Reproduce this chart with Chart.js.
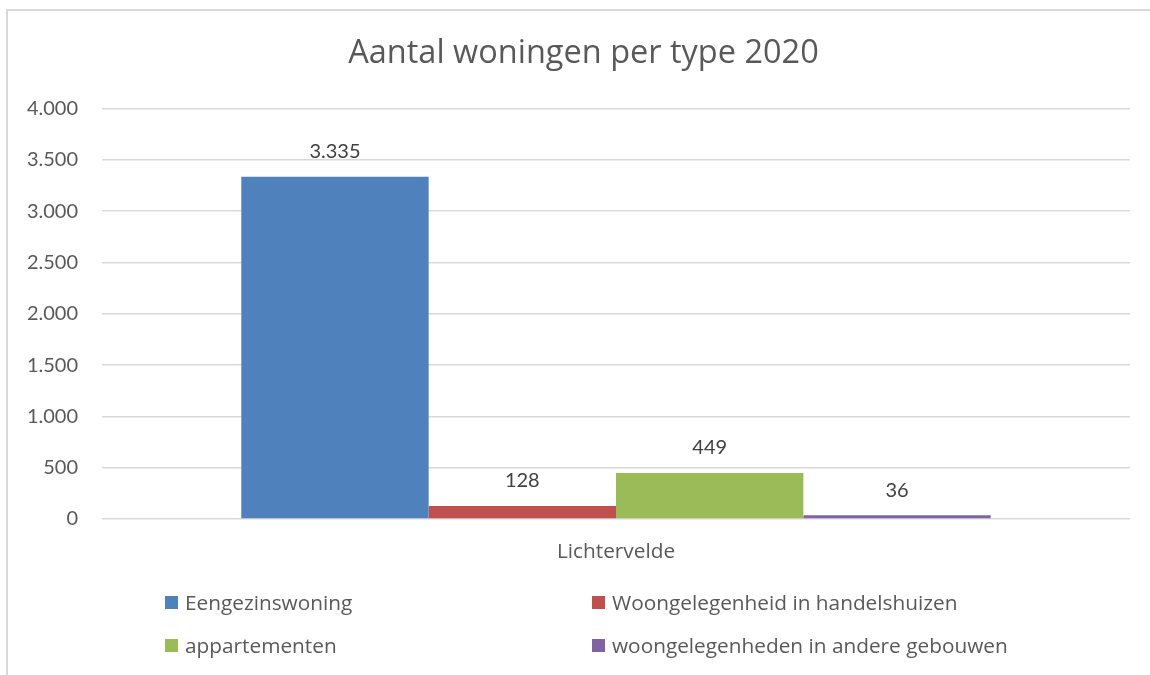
<!DOCTYPE html>
<html>
<head>
<meta charset="utf-8">
<script src="https://cdn.jsdelivr.net/npm/chart.js@4.4.1/dist/chart.umd.min.js"></script>
<style>
  html, body { margin: 0; padding: 0; background: #fff; }
  body { width: 1150px; height: 675px; position: relative; overflow: hidden; font-family: "Open Sans", Lato, sans-serif; }
  #frame { position: absolute; left: 6px; top: 9px; width: 1200px; height: 700px; border-left: 2px solid #d9d9d9; border-top: 2px solid #d9d9d9; box-sizing: border-box; }
  #wrap { position: absolute; left: 0; top: 0; width: 1150px; height: 675px; }
  #legend { position: absolute; left: 165px; top: 588px; width: 900px; }
  .item { position: absolute; display: flex; align-items: center; font-size: 20.8px; color: #595959; white-space: nowrap; line-height: 28px; }
  .box { width: 13px; height: 13px; margin-right: 7px; }
</style>
</head>
<body>
<div id="frame"></div>
<div id="wrap"><canvas id="c" width="1150" height="675"></canvas></div>
<div id="legend"></div>
<script>
const categories = ["Lichtervelde"];
const seriesNames = ["Eengezinswoning", "Woongelegenheid in handelshuizen", "appartementen", "woongelegenheden in andere gebouwen"];
const eengezinswoning = [3335];
const handelshuizen = [128];
const appartementen = [449];
const andereGebouwen = [36];
const seriesColors = ["#4f81bd", "#c0504d", "#9bbb59", "#8064a2"];
const yTicks = [0, 500, 1000, 1500, 2000, 2500, 3000, 3500, 4000];
const titleText = "Aantal woningen per type 2020";

function fmt(v) {
  return String(Math.round(v)).replace(/\B(?=(\d{3})+(?!\d))/g, ".");
}

const seriesValues = [eengezinswoning, handelshuizen, appartementen, andereGebouwen];

const labelPlugin = {
  id: "valueLabels",
  afterLayout(chart) {
    // center the title over the framed chart object rather than the canvas
    if (chart.titleBlock) chart.titleBlock.left = 37;
  },
  afterDatasetsDraw(chart) {
    const ctx = chart.ctx;
    ctx.save();
    ctx.font = "20px Lato, 'Open Sans', sans-serif";
    ctx.fillStyle = "#404040";
    ctx.textAlign = "center";
    ctx.textBaseline = "middle";
    chart.data.datasets.forEach((ds, i) => {
      const meta = chart.getDatasetMeta(i);
      meta.data.forEach((bar, j) => {
        ctx.fillText(fmt(ds.data[j]), bar.x, bar.y - 25);
      });
    });
    ctx.restore();
  }
};

new Chart(document.getElementById("c"), {
  type: "bar",
  data: {
    labels: categories,
    datasets: seriesNames.map((n, i) => ({
      label: n,
      data: seriesValues[i],
      backgroundColor: seriesColors[i],
      borderWidth: 0,
      categoryPercentage: 0.729,
      barPercentage: 1.0
    }))
  },
  options: {
    responsive: false,
    animation: false,
    events: [],
    layout: { padding: { top: 34, right: 20, bottom: 89, left: 0 } },
    plugins: {
      legend: { display: false },
      tooltip: { enabled: false },
      title: {
        display: true,
        text: titleText,
        color: "#595959",
        font: { family: "'Open Sans', Lato, sans-serif", size: 32.5, weight: "normal" },
        padding: { top: 0, bottom: 35.5 }
      }
    },
    scales: {
      x: {
        grid: { display: false, drawTicks: false },
        border: { display: false },
        ticks: { color: "#595959", padding: 21, font: { family: "'Open Sans', Lato, sans-serif", size: 20.8 } }
      },
      y: {
        min: 0,
        max: 4000,
        afterFit(scale) { scale.width = 102; },
        afterBuildTicks(scale) { scale.ticks = yTicks.map(v => ({ value: v })); },
        grid: { color: "#d9d9d9", lineWidth: 1.5, drawTicks: false },
        border: { display: false },
        ticks: {
          color: "#595959",
          padding: 24,
          font: { family: "Lato, 'Open Sans', sans-serif", size: 20 },
          callback: (v) => fmt(v)
        }
      }
    }
  },
  plugins: [labelPlugin]
});

const legendEl = document.getElementById("legend");
const pos = [[0, 0], [427, 0], [0, 43], [427, 43]];
seriesNames.forEach((n, i) => {
  const it = document.createElement("div");
  it.className = "item";
  it.style.left = pos[i][0] + "px";
  it.style.top = pos[i][1] + "px";
  const b = document.createElement("span");
  b.className = "box";
  b.style.background = seriesColors[i];
  const t = document.createElement("span");
  t.textContent = n;
  it.appendChild(b);
  it.appendChild(t);
  legendEl.appendChild(it);
});
</script>
</body>
</html>
